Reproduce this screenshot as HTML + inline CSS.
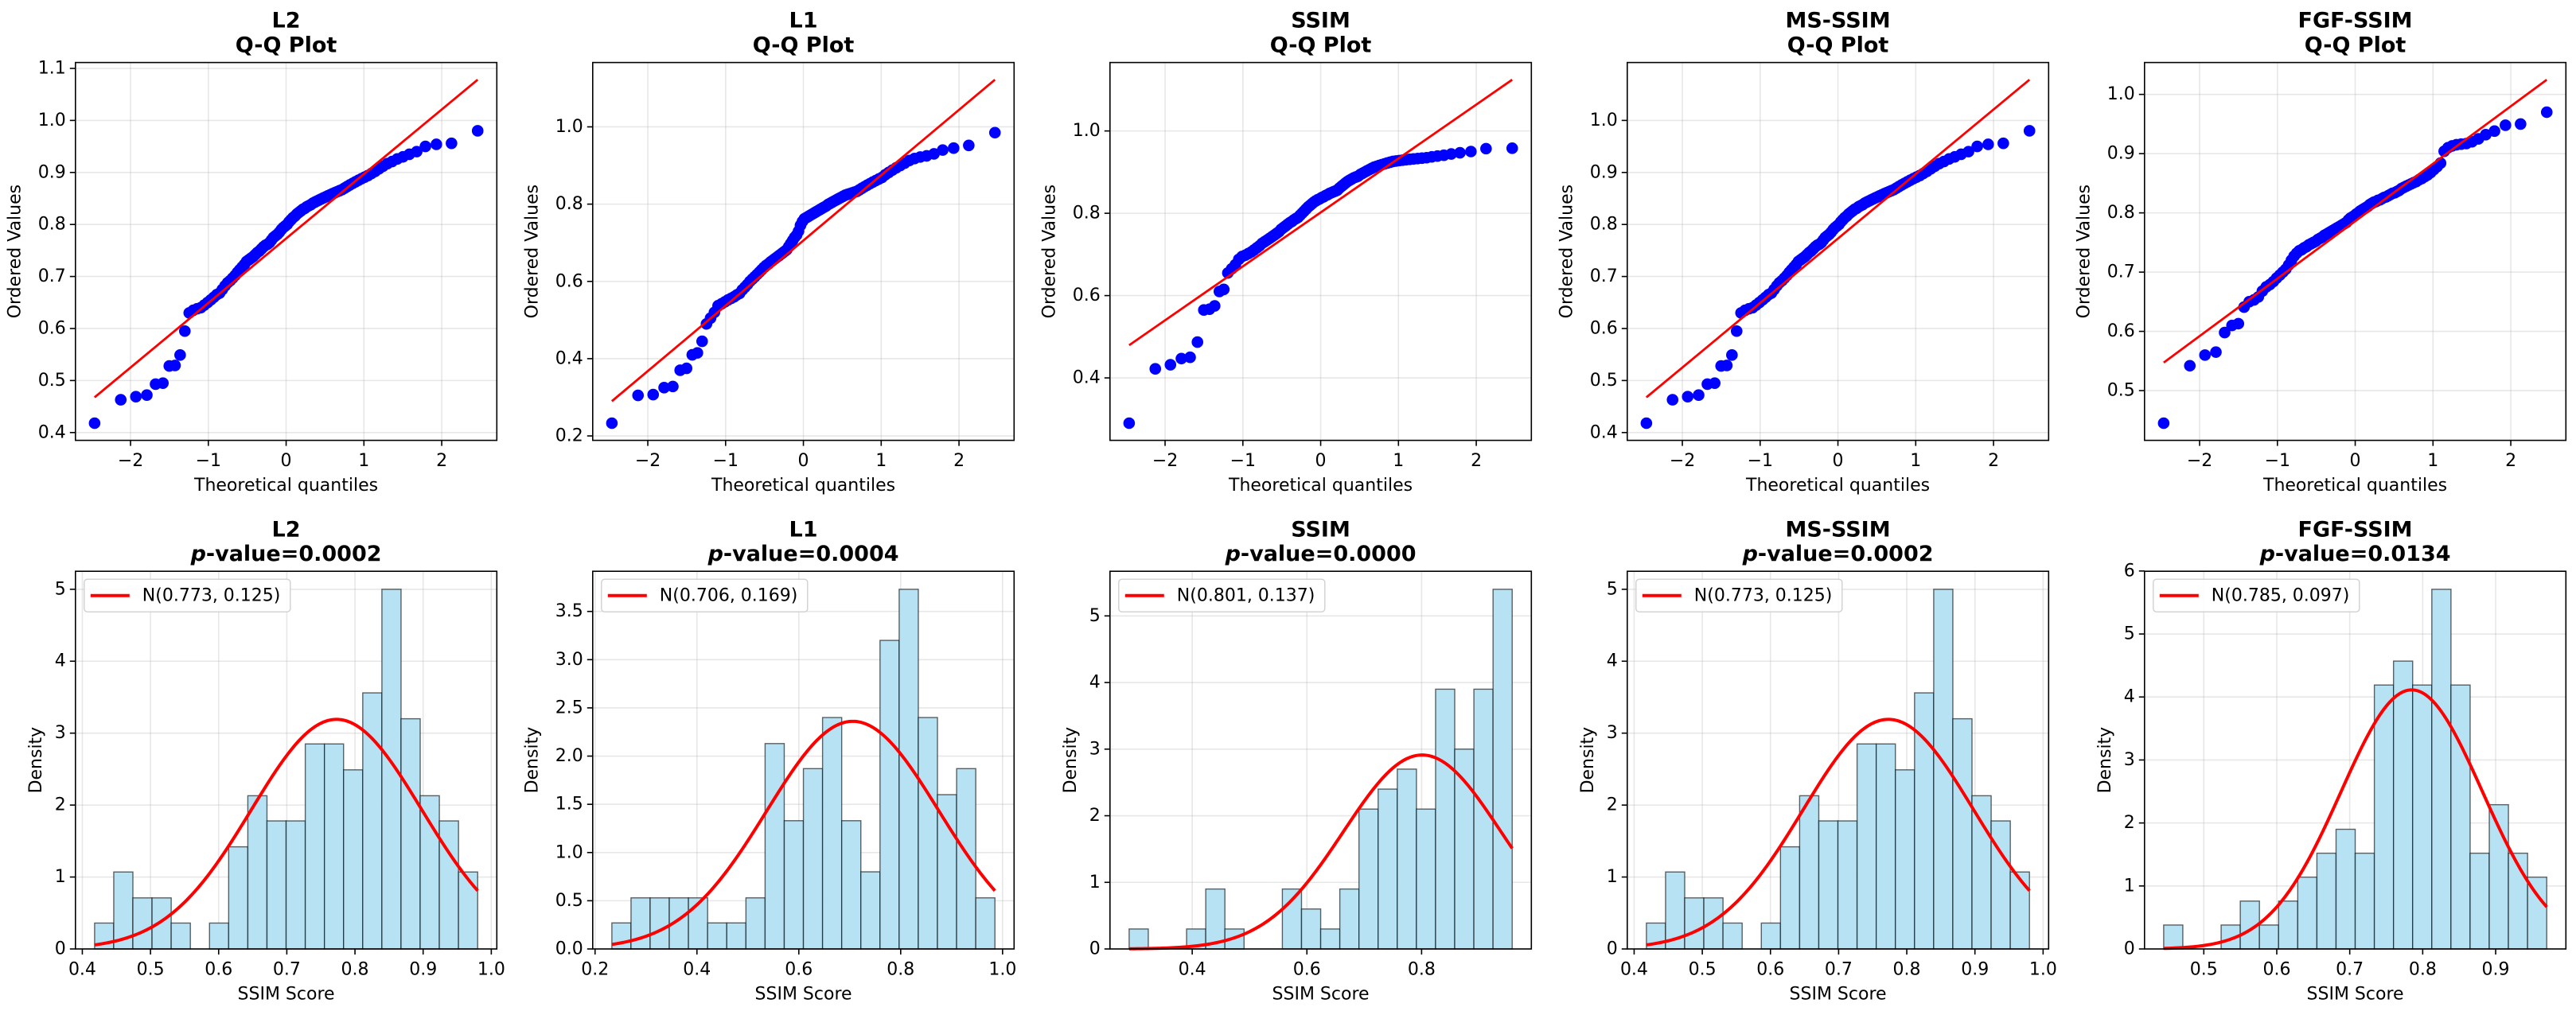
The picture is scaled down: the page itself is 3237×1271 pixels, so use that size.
<!DOCTYPE html>
<html>
<head>
<meta charset="utf-8">
<style>
html,body{margin:0;padding:0;background:#fff;}
svg{display:block;font-family:"DejaVu Sans","Liberation Sans",sans-serif;}
</style>
</head>
<body>
<svg id="fig" width="3237" height="1271" viewBox="0 0 3237 1271" xmlns="http://www.w3.org/2000/svg"></svg>
<script>
const metrics=["L2","L1","SSIM","MS-SSIM","FGF-SSIM"];
const pValues=["0.0002","0.0004","0.0000","0.0002","0.0134"];
const fitMean=[0.773,0.706,0.801,0.773,0.785];
const fitStd=[0.125,0.169,0.137,0.125,0.097];
const qqSlope=[0.124,0.169,0.131,0.124,0.097];
const qqIntercept=[0.773,0.706,0.802,0.773,0.786];

const valsL2=[0.418,0.463,0.469,0.472,0.493,0.495,0.528,0.529,0.549,0.595,0.630,0.635,0.638,0.640,0.645,0.650,0.655,0.660,0.665,0.668,0.675,0.682,0.688,0.692,0.697,0.702,0.708,0.713,0.718,0.723,0.729,0.732,0.735,0.738,0.742,0.746,0.749,0.753,0.757,0.760,0.762,0.765,0.770,0.775,0.778,0.781,0.785,0.790,0.794,0.797,0.800,0.805,0.809,0.813,0.816,0.820,0.823,0.826,0.829,0.831,0.834,0.836,0.838,0.841,0.843,0.845,0.847,0.849,0.851,0.853,0.855,0.857,0.859,0.861,0.863,0.865,0.867,0.870,0.873,0.876,0.879,0.882,0.885,0.888,0.891,0.894,0.898,0.902,0.907,0.912,0.917,0.921,0.926,0.930,0.935,0.940,0.950,0.954,0.956,0.980];
const valsL1=[0.233,0.305,0.307,0.325,0.328,0.370,0.375,0.410,0.415,0.445,0.490,0.505,0.520,0.537,0.542,0.547,0.552,0.556,0.560,0.565,0.569,0.578,0.585,0.592,0.600,0.606,0.612,0.618,0.624,0.630,0.636,0.641,0.645,0.650,0.654,0.658,0.662,0.666,0.670,0.674,0.678,0.682,0.690,0.698,0.706,0.714,0.720,0.730,0.745,0.755,0.762,0.765,0.768,0.771,0.774,0.777,0.780,0.783,0.786,0.789,0.792,0.795,0.799,0.802,0.805,0.808,0.811,0.814,0.817,0.820,0.823,0.825,0.827,0.829,0.831,0.833,0.837,0.841,0.845,0.849,0.853,0.857,0.861,0.865,0.869,0.876,0.882,0.888,0.894,0.900,0.906,0.913,0.918,0.922,0.925,0.930,0.940,0.945,0.952,0.985];
const valsSSIM=[0.290,0.422,0.432,0.447,0.450,0.487,0.565,0.567,0.575,0.610,0.615,0.655,0.665,0.675,0.688,0.695,0.698,0.702,0.706,0.711,0.716,0.721,0.727,0.731,0.735,0.739,0.743,0.747,0.751,0.755,0.761,0.765,0.769,0.773,0.777,0.780,0.784,0.787,0.790,0.795,0.800,0.805,0.810,0.815,0.819,0.823,0.827,0.830,0.833,0.835,0.838,0.840,0.843,0.845,0.848,0.850,0.852,0.854,0.856,0.861,0.865,0.869,0.873,0.877,0.880,0.883,0.886,0.888,0.890,0.894,0.897,0.900,0.903,0.906,0.909,0.912,0.914,0.916,0.918,0.920,0.922,0.924,0.926,0.927,0.928,0.929,0.930,0.931,0.932,0.933,0.934,0.935,0.937,0.939,0.941,0.944,0.947,0.950,0.957,0.958];
const valsMSSSIM=[0.418,0.463,0.469,0.472,0.493,0.495,0.528,0.529,0.549,0.595,0.630,0.635,0.638,0.640,0.645,0.650,0.655,0.660,0.665,0.668,0.675,0.682,0.688,0.692,0.697,0.702,0.708,0.713,0.718,0.723,0.729,0.732,0.735,0.738,0.742,0.746,0.749,0.753,0.757,0.760,0.762,0.765,0.770,0.775,0.778,0.781,0.785,0.790,0.794,0.797,0.800,0.805,0.809,0.813,0.816,0.820,0.823,0.826,0.829,0.831,0.834,0.836,0.838,0.841,0.843,0.845,0.847,0.849,0.851,0.853,0.855,0.857,0.859,0.861,0.863,0.865,0.867,0.870,0.873,0.876,0.879,0.882,0.885,0.888,0.891,0.894,0.898,0.902,0.907,0.912,0.917,0.921,0.926,0.930,0.935,0.940,0.950,0.954,0.956,0.980];
const valsFGF=[0.445,0.542,0.560,0.565,0.598,0.610,0.613,0.641,0.650,0.653,0.658,0.668,0.675,0.679,0.684,0.690,0.695,0.700,0.705,0.712,0.720,0.727,0.732,0.736,0.738,0.741,0.743,0.746,0.748,0.750,0.752,0.755,0.757,0.759,0.762,0.764,0.766,0.768,0.770,0.772,0.774,0.776,0.778,0.780,0.782,0.784,0.788,0.791,0.793,0.795,0.798,0.800,0.803,0.805,0.807,0.809,0.811,0.814,0.816,0.818,0.819,0.821,0.822,0.824,0.826,0.827,0.829,0.831,0.833,0.834,0.836,0.838,0.841,0.843,0.845,0.847,0.849,0.851,0.853,0.856,0.858,0.861,0.864,0.868,0.873,0.878,0.884,0.904,0.910,0.913,0.915,0.916,0.917,0.920,0.925,0.932,0.938,0.948,0.950,0.970];

const histL2=[0.36,1.07,0.71,0.71,0.36,0,0.36,1.42,2.13,1.78,1.78,2.85,2.85,2.49,3.56,5.0,3.2,2.13,1.78,1.07];
const histL1=[0.27,0.53,0.53,0.53,0.53,0.27,0.27,0.53,2.13,1.33,1.87,2.4,1.33,0.8,3.2,3.73,2.4,1.6,1.87,0.53];
const histSSIM=[0.3,0,0,0.3,0.9,0.3,0,0,0.9,0.6,0.3,0.9,2.1,2.4,2.7,2.1,3.9,3.0,3.9,5.4];
const histMSSSIM=[0.36,1.07,0.71,0.71,0.36,0,0.36,1.42,2.13,1.78,1.78,2.85,2.85,2.49,3.56,5.0,3.2,2.13,1.78,1.07];
const histFGF=[0.38,0,0,0.38,0.76,0.38,0.76,1.14,1.52,1.9,1.52,4.19,4.57,4.19,5.71,4.19,1.52,2.29,1.52,1.14];

const qqXTicks=["-2","-1","0","1","2"];
const qqYTicksL2=["0.4","0.5","0.6","0.7","0.8","0.9","1.0","1.1"];
const qqYTicksL1=["0.2","0.4","0.6","0.8","1.0"];
const qqYTicksSSIM=["0.4","0.6","0.8","1.0"];
const qqYTicksMSSSIM=["0.4","0.5","0.6","0.7","0.8","0.9","1.0"];
const qqYTicksFGF=["0.5","0.6","0.7","0.8","0.9","1.0"];
const histXTicksL2=["0.4","0.5","0.6","0.7","0.8","0.9","1.0"];
const histXTicksL1=["0.2","0.4","0.6","0.8","1.0"];
const histXTicksSSIM=["0.4","0.6","0.8"];
const histXTicksMSSSIM=["0.4","0.5","0.6","0.7","0.8","0.9","1.0"];
const histXTicksFGF=["0.5","0.6","0.7","0.8","0.9"];
const histYTicksL2=["0","1","2","3","4","5"];
const histYTicksL1=["0.0","0.5","1.0","1.5","2.0","2.5","3.0","3.5"];
const histYTicksSSIM=["0","1","2","3","4","5"];
const histYTicksMSSSIM=["0","1","2","3","4","5"];
const histYTicksFGF=["0","1","2","3","4","5","6"];

const allVals=[valsL2,valsL1,valsSSIM,valsMSSSIM,valsFGF];
const allHist=[histL2,histL1,histSSIM,histMSSSIM,histFGF];
const allQQY=[qqYTicksL2,qqYTicksL1,qqYTicksSSIM,qqYTicksMSSSIM,qqYTicksFGF];
const allHX=[histXTicksL2,histXTicksL1,histXTicksSSIM,histXTicksMSSSIM,histXTicksFGF];
const allHY=[histYTicksL2,histYTicksL1,histYTicksSSIM,histYTicksMSSSIM,histYTicksFGF];

const NS="http://www.w3.org/2000/svg";
const svg=document.getElementById("fig");
function el(tag,attrs,parent){const e=document.createElementNS(NS,tag);for(const k in attrs)e.setAttribute(k,attrs[k]);(parent||svg).appendChild(e);return e;}
function norminv(p){
  const a=[-3.969683028665376e+01,2.209460984245205e+02,-2.759285104469687e+02,1.383577518672690e+02,-3.066479806614716e+01,2.506628277459239e+00];
  const b=[-5.447609879822406e+01,1.615858368580409e+02,-1.556989798598866e+02,6.680131188771972e+01,-1.328068155288572e+01];
  const c=[-7.784894002430293e-03,-3.223964580411365e-01,-2.400758277161838e+00,-2.549732539343734e+00,4.374664141464968e+00,2.938163982698783e+00];
  const d=[7.784695709041462e-03,3.224671290700398e-01,2.445134137142996e+00,3.754408661907416e+00];
  const pl=0.02425;let q,r;
  if(p<pl){q=Math.sqrt(-2*Math.log(p));return (((((c[0]*q+c[1])*q+c[2])*q+c[3])*q+c[4])*q+c[5])/((((d[0]*q+d[1])*q+d[2])*q+d[3])*q+1);}
  if(p>1-pl){q=Math.sqrt(-2*Math.log(1-p));return -(((((c[0]*q+c[1])*q+c[2])*q+c[3])*q+c[4])*q+c[5])/((((d[0]*q+d[1])*q+d[2])*q+d[3])*q+1);}
  q=p-0.5;r=q*q;return (((((a[0]*r+a[1])*r+a[2])*r+a[3])*r+a[4])*r+a[5])*q/(((((b[0]*r+b[1])*r+b[2])*r+b[3])*r+b[4])*r+1);
}
function theoQ(n){const out=[];const last=Math.pow(0.5,1/n);for(let i=1;i<=n;i++){let u;if(i===1)u=1-last;else if(i===n)u=last;else u=(i-0.3175)/(n+0.365);out.push(norminv(u));}return out;}
function fmt(s){return s.replace("-","\u2212");}

const COLW=650, AX0=94.8, AW=529.5;
const ROWS=[{top:78.6,bot:553.6},{top:718.2,bot:1193}];
const FS=22, TFS=27;

function drawFrameAndTicks(g,L,T,R,B,xt,yt,sx,sy){
  xt.forEach(t=>{const x=sx(parseFloat(t));const l=el("line",{x1:x,x2:x,y1:T,y2:B,stroke:"#b0b0b0","stroke-opacity":0.3,"stroke-width":1.6},g);
    
    });
  yt.forEach(t=>{const y=sy(parseFloat(t));const l=el("line",{x1:L,x2:R,y1:y,y2:y,stroke:"#b0b0b0","stroke-opacity":0.3,"stroke-width":1.6},g);
    
    });
}
function drawAxes(g,L,T,R,B,xt,yt,sx,sy,xlabel,ylabel){
  const fr=el("rect",{x:L,y:T,width:R-L,height:B-T,fill:"none",stroke:"#000","stroke-width":1.6},g);
  
  
  xt.forEach(t=>{const x=sx(parseFloat(t));
    el("line",{x1:x,x2:x,y1:B,y2:B+7,stroke:"#000","stroke-width":1.6},g);
    const tx=el("text",{x:x,y:B+26,"font-size":FS,"text-anchor":"middle","dominant-baseline":"central",fill:"#000"},g);tx.textContent=fmt(t);
    
    });
  let maxw=0;
  yt.forEach(t=>{const y=sy(parseFloat(t));
    el("line",{x1:L-7,x2:L,y1:y,y2:y,stroke:"#000","stroke-width":1.6},g);
    const tx=el("text",{x:L-12,y:y,"font-size":FS,"text-anchor":"end","dominant-baseline":"central",fill:"#000"},g);tx.textContent=fmt(t);
    
    
    maxw=Math.max(maxw,t.length*13.2);});
  const xl=el("text",{x:(L+R)/2,y:B+57,"font-size":FS,"text-anchor":"middle","dominant-baseline":"central",fill:"#000"},g);xl.textContent=xlabel;
  
  
  const yx=L-12-maxw-24;
  const yl=el("text",{x:yx,y:(T+B)/2,"font-size":FS,"text-anchor":"middle","dominant-baseline":"central",fill:"#000",transform:`rotate(-90 ${yx} ${(T+B)/2})`},g);yl.textContent=ylabel;
  
  
}

metrics.forEach((m,i)=>{
  const L=AX0+i*COLW, R=L+AW;
  const vals=allVals[i].slice().sort((a,b)=>a-b);
  const n=vals.length;
  {
    const T=ROWS[0].top,B=ROWS[0].bot;
    const g=el("g",{});
    
    
    const q=theoQ(n);
    const qmin=q[0],qmax=q[n-1];
    const l0=qqIntercept[i]+qqSlope[i]*qmin, l1=qqIntercept[i]+qqSlope[i]*qmax;
    const ymn=Math.min(vals[0],l0,l1), ymx=Math.max(vals[n-1],l0,l1);
    const xpad=(qmax-qmin)*0.05, ypad=(ymx-ymn)*0.05;
    const x0=qmin-xpad,x1=qmax+xpad,y0=ymn-ypad,y1=ymx+ypad;
    const sx=v=>L+(v-x0)/(x1-x0)*(R-L), sy=v=>B-(v-y0)/(y1-y0)*(B-T);
    const yt=allQQY[i].filter(t=>{const v=parseFloat(t);return v>=y0-0.01&&v<=y1+0.01;});
    drawFrameAndTicks(g,L,T,R,B,qqXTicks,yt,sx,sy);
    vals.forEach((v,k)=>{const c=el("circle",{cx:sx(q[k]),cy:sy(v),r:7.3,fill:"#0000ff"},g);
      
      });
    const ln=el("line",{x1:sx(qmin),y1:sy(l0),x2:sx(qmax),y2:sy(l1),stroke:"#ff0000","stroke-width":2.8},g);
    
    
    drawAxes(g,L,T,R,B,qqXTicks,yt,sx,sy,"Theoretical quantiles","Ordered Values");
    const t1=el("text",{x:(L+R)/2,y:26,"font-size":TFS,"font-weight":"bold","text-anchor":"middle","dominant-baseline":"central"},g);t1.textContent=m;
    
    
    const t2=el("text",{x:(L+R)/2,y:57,"font-size":TFS,"font-weight":"bold","text-anchor":"middle","dominant-baseline":"central"},g);t2.textContent="Q-Q Plot";
    
    
  }
  {
    const T=ROWS[1].top,B=ROWS[1].bot;
    const g=el("g",{});
    
    
    const dens=allHist[i], nb=dens.length;
    const lo=vals[0], hi=vals[n-1], bw=(hi-lo)/nb;
    const mu=fitMean[i], sd=fitStd[i];
    const pdf=x=>Math.exp(-0.5*((x-mu)/sd)**2)/(sd*Math.sqrt(2*Math.PI));
    let cmax=0;for(let k=0;k<=200;k++){cmax=Math.max(cmax,pdf(lo+(hi-lo)*k/200));}
    const ymx=Math.max(Math.max(...dens),cmax);
    const xpad=(hi-lo)*0.05;
    const x0=lo-xpad,x1=hi+xpad,y0=0,y1=ymx*1.05;
    const sx=v=>L+(v-x0)/(x1-x0)*(R-L), sy=v=>B-(v-y0)/(y1-y0)*(B-T);
    const xt=allHX[i], yt=allHY[i].filter(t=>parseFloat(t)<=y1+0.02);
    drawFrameAndTicks(g,L,T,R,B,xt,yt,sx,sy);
    dens.forEach((d,k)=>{
      const xa=sx(lo+k*bw), xb=sx(lo+(k+1)*bw);
      const r=el("rect",{x:xa,y:sy(d),width:xb-xa,height:sy(0)-sy(d),fill:"rgb(183,226,243)",stroke:"rgba(0,0,0,0.6)","stroke-width":1.4},g);
      
      
    });
    let dstr="";for(let k=0;k<=200;k++){const x=lo+(hi-lo)*k/200;dstr+=(k?"L":"M")+sx(x).toFixed(2)+","+sy(pdf(x)).toFixed(2);}
    const cv=el("path",{d:dstr,fill:"none",stroke:"#ff0000","stroke-width":4},g);
    
    
    drawAxes(g,L,T,R,B,xt,yt,sx,sy,"SSIM Score","Density");
    const lg=el("g",{},g);
    
    
    el("rect",{x:L+11,y:T+10,width:259,height:41,rx:4,fill:"#fff","fill-opacity":0.85,stroke:"#d0d0d0","stroke-width":1.4},lg);
    const ll=el("line",{x1:L+19,x2:L+68,y1:T+30.5,y2:T+30.5,stroke:"#ff0000","stroke-width":4},lg);
    
    
    const lt=el("text",{x:L+84,y:T+31,"font-size":FS,"dominant-baseline":"central",fill:"#000"},lg);
    lt.textContent=`N(${mu.toFixed(3)}, ${sd.toFixed(3)})`;
    
    
    const t1=el("text",{x:(L+R)/2,y:666,"font-size":TFS,"font-weight":"bold","text-anchor":"middle","dominant-baseline":"central"},g);t1.textContent=m;
    
    
    const t2=el("text",{x:(L+R)/2,y:696,"font-size":TFS,"font-weight":"bold","text-anchor":"middle","dominant-baseline":"central"},g);
    const ts=el("tspan",{"font-style":"italic"},t2);ts.textContent="p";
    const ts2=el("tspan",{},t2);ts2.textContent="-value="+pValues[i];
    
    
  }
});
</script>
</body>
</html>
